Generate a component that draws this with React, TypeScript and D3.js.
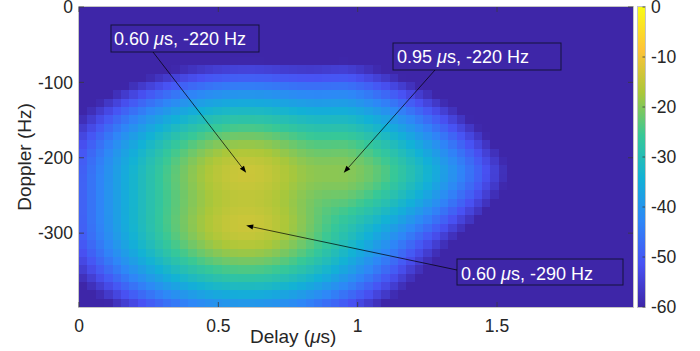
import React from 'react';
import * as d3 from 'd3';

// ---- data ----
const delayTicks = [0, 0.5, 1, 1.5];
const dopplerTicks = [0, -100, -200, -300];
const colorTicks = [0, -10, -20, -30, -40, -50, -60];

// scattering components of the delay-Doppler map (peak level in dB, spreads, contour shape)
const targetDelays = [0.6, 0.6, 0.95];
const targetDopplers = [-220, -290, -220];
const targetPeaksDb = [-14, -14, -20];
const targetDelaySpreads = [0.68, 0.68, 0.64];
const targetDopplerSpreads = [147, 147, 159];
const targetShapeExponents = [2, 2, 1.5];
// fall-off profile of each component (dB vs normalised distance)
const profileLin = 31;
const profileQuad = 21;
const profileCore = 0.25;

const annotationDelays = [0.6, 0.95, 0.6];
const annotationDopplers = [-220, -220, -290];
const annotationLabels = ['0.60', '0.95', '0.60'];
const annotationHz = ['-220', '-220', '-290'];

// parula colour map anchors
const parulaColors = ['#3e26a8', '#4852f4', '#2e87f7', '#12b1d6', '#37c897', '#abc739', '#fec338', '#f9fb15'];

const delayDomain = [0, 1.988];
const dopplerDomain = [-398, 0];
const nCols = 66;
const nRows = 36;

function levelAt(delay: number, doppler: number): number {
  let p = 0;
  for (let k = 0; k < targetDelays.length; k++) {
    const e = targetShapeExponents[k];
    const dx = Math.abs(delay - targetDelays[k]) / targetDelaySpreads[k];
    const dy = Math.abs(doppler - targetDopplers[k]) / targetDopplerSpreads[k];
    const r = Math.pow(Math.pow(dx, e) + Math.pow(dy, e), 1 / e);
    const drop = profileLin * (Math.sqrt(r * r + profileCore * profileCore) - profileCore) + profileQuad * r * r;
    p += Math.pow(10, (targetPeaksDb[k] - drop) / 10);
  }
  const db = 10 * Math.log10(p);
  return Math.max(-60, Math.min(0, db));
}

export default function App() {
  const left = 79, right = 633, top = 7, bottom = 307;
  const x = d3.scaleLinear().domain(delayDomain).range([left, right]);
  const y = d3.scaleLinear().domain(dopplerDomain).range([bottom, top]);
  const color = d3
    .scaleLinear<string>()
    .domain(parulaColors.map((_, i) => -60 + (60 * i) / (parulaColors.length - 1)))
    .range(parulaColors)
    .interpolate(d3.interpolateRgb)
    .clamp(true);

  const dDelay = (delayDomain[1] - delayDomain[0]) / nCols;
  const dDop = (dopplerDomain[1] - dopplerDomain[0]) / nRows;
  const cells: JSX.Element[] = [];
  for (let i = 0; i < nCols; i++) {
    for (let j = 0; j < nRows; j++) {
      const d0 = delayDomain[0] + i * dDelay;
      const f0 = dopplerDomain[1] - j * dDop;
      const v = levelAt(d0 + dDelay / 2, f0 - dDop / 2);
      const x0 = x(d0);
      const x1 = x(d0 + dDelay);
      const y0 = y(f0);
      const y1 = y(f0 - dDop);
      cells.push(
        <rect key={`${i}-${j}`} x={x0} y={y0} width={x1 - x0 + 0.6} height={y1 - y0 + 0.6} fill={color(v)} />
      );
    }
  }

  const cbX = 638, cbW = 7;
  const cbScale = d3.scaleLinear().domain([-60, 0]).range([bottom, top]);

  const boxes = [
    { x: 111, y: 25, w: 148, h: 27, tx: 114, ty: 45, ax: 153, ay: 52 },
    { x: 393, y: 43, w: 168, h: 27, tx: 397, ty: 63, ax: 435, ay: 70 },
    { x: 457, y: 259, w: 166, h: 26, tx: 461, ty: 280, ax: 457, ay: 270 },
  ];

  const font = "'Liberation Sans', Arial, Helvetica, sans-serif";
  const tickColor = '#262626';

  return (
    <svg width={700} height={351} style={{ position: 'absolute', left: 0, top: 0, background: '#fff' }} fontFamily={font}>
      <g shapeRendering="crispEdges">{cells}</g>
      {/* frame */}
      <rect x={left - 0.5} y={top - 0.5} width={right - left + 1} height={bottom - top + 1} fill="none" stroke="#c4c4c4" strokeWidth={1} />
      {/* ticks */}
      {delayTicks.map((t) => (
        <g key={`xt${t}`} stroke="#3a3a3a" strokeWidth={0.8}>
          <line x1={x(t)} x2={x(t)} y1={bottom} y2={bottom - 5} />
          <line x1={x(t)} x2={x(t)} y1={top} y2={top + 5} />
        </g>
      ))}
      {dopplerTicks.map((t) => (
        <g key={`yt${t}`} stroke="#3a3a3a" strokeWidth={0.8}>
          <line x1={left} x2={left + 5} y1={y(t)} y2={y(t)} />
          <line x1={right} x2={right - 5} y1={y(t)} y2={y(t)} />
        </g>
      ))}
      {delayTicks.map((t) => (
        <text key={`xl${t}`} x={x(t)} y={332} textAnchor="middle" fontSize={17.5} fill={tickColor}>
          {d3.format('~g')(t)}
        </text>
      ))}
      {dopplerTicks.map((t) => (
        <text key={`yl${t}`} x={73} y={y(t)} dy="0.35em" textAnchor="end" fontSize={17.5} fill={tickColor}>
          {t}
        </text>
      ))}
      <text x={250} y={343} fontSize={19} fill={tickColor}>
        Delay (<tspan fontStyle="italic">μ</tspan>s)
      </text>
      <text transform={`translate(31,${(top + bottom) / 2}) rotate(-90)`} textAnchor="middle" fontSize={19} fill={tickColor}>
        Doppler (Hz)
      </text>

      {/* annotations */}
      {boxes.map((b, i) => {
        const tx = x(annotationDelays[i]);
        const ty = y(annotationDopplers[i]);
        const ang = Math.atan2(ty - b.ay, tx - b.ax);
        const L = 7, Wd = 2.6;
        const bx = tx - L * Math.cos(ang), by = ty - L * Math.sin(ang);
        const px = -Math.sin(ang), py = Math.cos(ang);
        const head = `M${tx},${ty} L${bx + px * Wd},${by + py * Wd} L${bx - px * Wd},${by - py * Wd} Z`;
        return (
          <g key={`ann${i}`}>
            <rect x={b.x} y={b.y} width={b.w} height={b.h} fill="none" stroke="#15123a" strokeWidth={1} />
            <text x={b.tx} y={b.ty} fontSize={18} fill="#ffffff">
              {annotationLabels[i]} <tspan fontStyle="italic">μ</tspan>s, {annotationHz[i]} Hz
            </text>
            <line x1={b.ax} y1={b.ay} x2={bx} y2={by} stroke="#000" strokeWidth={0.7} />
            <path d={head} fill="#000" />
          </g>
        );
      })}

      {/* colorbar */}
      <defs>
        <linearGradient id="parulaGrad" x1="0" y1="1" x2="0" y2="0">
          {parulaColors.map((c, i) => (
            <stop key={c} offset={i / (parulaColors.length - 1)} stopColor={c} />
          ))}
        </linearGradient>
      </defs>
      <rect x={cbX} y={top} width={cbW} height={bottom - top} fill="url(#parulaGrad)" />
      <rect x={cbX - 0.5} y={top - 0.5} width={cbW + 1} height={bottom - top + 1} fill="none" stroke="#c4c4c4" strokeWidth={1} />
      {colorTicks.map((t) => (
        <g key={`ct${t}`}>
          <line x1={cbX + cbW - 2.5} x2={cbX + cbW} y1={cbScale(t)} y2={cbScale(t)} stroke="#3a3a3a" strokeWidth={0.8} />
          <text x={651} y={cbScale(t)} dy="0.35em" fontSize={17.5} fill={tickColor}>
            {t}
          </text>
        </g>
      ))}
    </svg>
  );
}
